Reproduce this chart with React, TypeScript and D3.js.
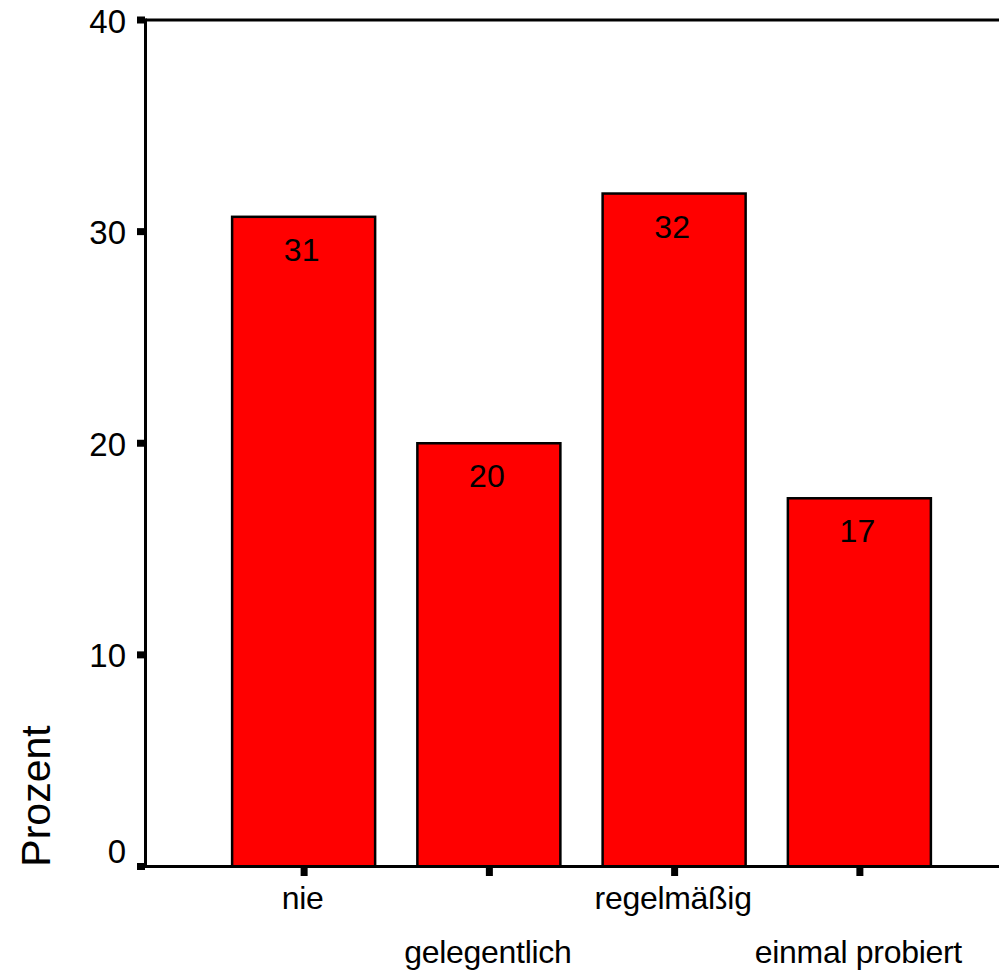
import React from "react";
import * as d3 from "d3";

const categories = ["nie", "gelegentlich", "regelmäßig", "einmal probiert"];
const values = [30.7, 20.0, 31.8, 17.4];
const yTicks = [0, 10, 20, 30, 40];

const W = 999;
const H = 972;

export default function App() {
  const x = d3
    .scaleBand<string>()
    .domain(categories)
    .range([211, 952])
    .paddingInner(0.228)
    .paddingOuter(0.114)
    .align(0.5);
  const y = d3.scaleLinear().domain([0, 40]).range([866.5, 20]);
  const axisX = 145.5;
  const font = "'Liberation Sans', Arial, Helvetica, sans-serif";

  return (
    <div style={{ position: "absolute", left: 0, top: 0 }}>
      <svg width={W} height={H} style={{ display: "block" }} fontFamily={font}>
        <rect x={0} y={0} width={W} height={H} fill="#fff" />
        {/* bars */}
        {categories.map((c, i) => (
          <g key={c}>
            <rect
              x={x(c)!}
              y={y(values[i])}
              width={x.bandwidth()}
              height={y(0) - y(values[i])}
              fill="#ff0000"
              stroke="#000"
              strokeWidth={2.5}
            />
            <text
              x={x(c)! + x.bandwidth() / 2 - 2}
              y={y(values[i]) + 44}
              textAnchor="middle"
              fontSize={32}
              fill="#000"
            >
              {Math.round(values[i])}
            </text>
          </g>
        ))}
        {/* frame top line */}
        <line x1={axisX} x2={W} y1={y(40)} y2={y(40)} stroke="#000" strokeWidth={3} />
        {/* y axis */}
        <line x1={axisX} x2={axisX} y1={y(40) - 1.5} y2={y(0) + 1.5} stroke="#000" strokeWidth={3} />
        {yTicks.map((t) => (
          <g key={t}>
            <rect x={137} y={y(t) - 3.5} width={8} height={7} fill="#000" />
            <text
              x={126}
              y={t === 0 ? y(t) - 3.5 : y(t) + 12.5}
              textAnchor="end"
              fontSize={33}
              fill="#000"
            >
              {t}
            </text>
          </g>
        ))}
        {/* x axis */}
        <line x1={axisX} x2={W} y1={y(0)} y2={y(0)} stroke="#000" strokeWidth={3} />
        {categories.map((c, i) => {
          const cx = x(c)! + x.bandwidth() / 2;
          return (
            <g key={c}>
              <rect x={cx - 3} y={868} width={7} height={8} fill="#000" />
              <text
                x={cx - 1}
                y={i % 2 === 0 ? 909 : 963}
                textAnchor="middle"
                fontSize={32}
                letterSpacing={-0.3}
                fill="#000"
              >
                {c}
              </text>
            </g>
          );
        })}
        {/* y title */}
        <text
          transform={`translate(50,796) rotate(-90)`}
          textAnchor="middle"
          fontSize={41}
          fill="#000"
        >
          Prozent
        </text>
      </svg>
    </div>
  );
}
